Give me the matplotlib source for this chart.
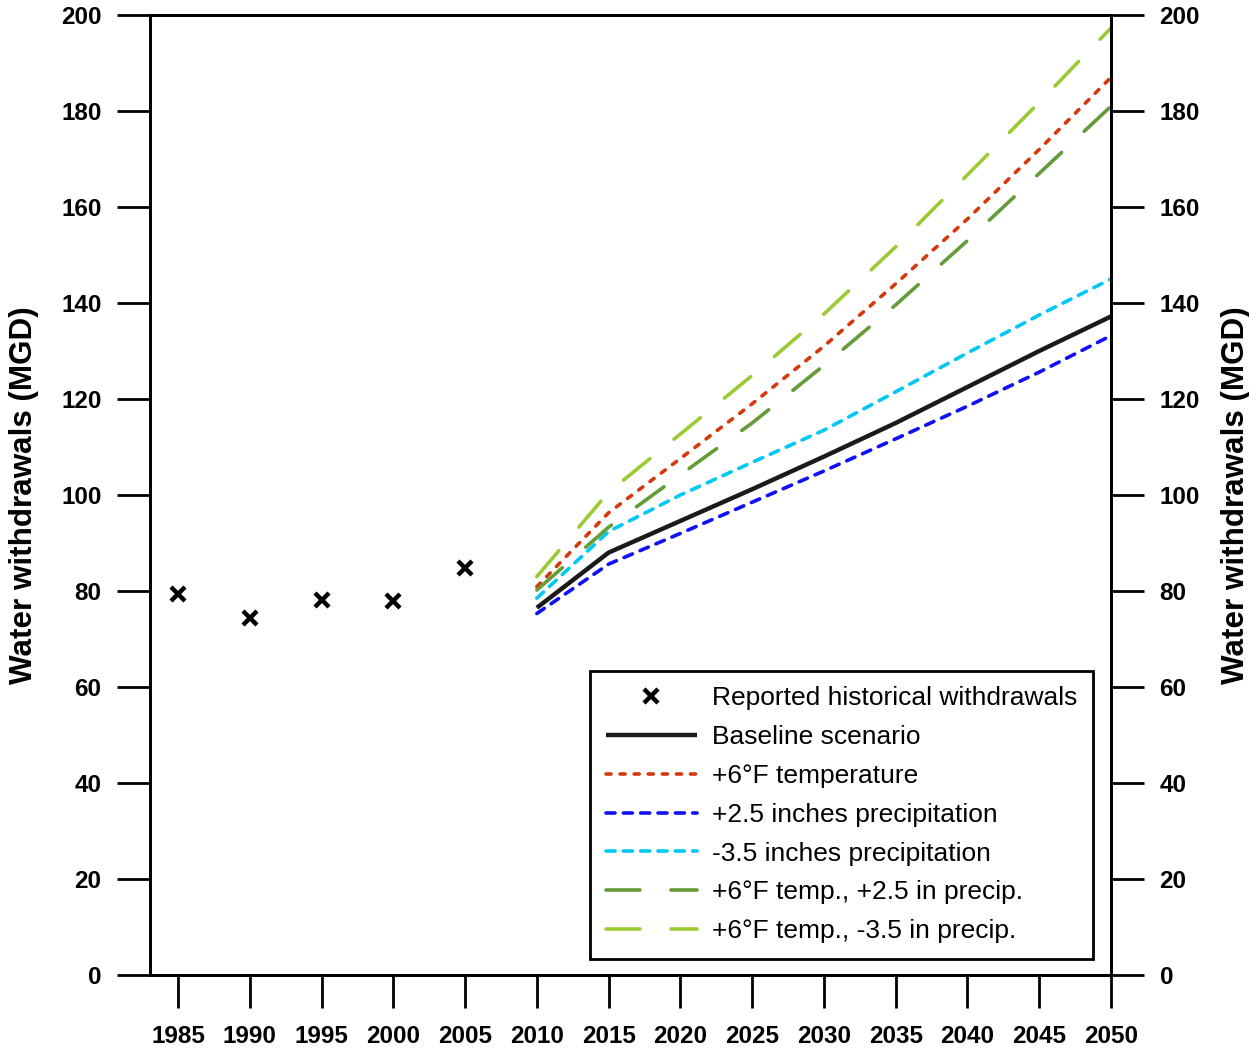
import matplotlib
matplotlib.use("Agg")
import matplotlib.pyplot as plt

plt.rcParams['font.family'] = ['Liberation Sans', 'DejaVu Sans']

hist_years = [1985, 1990, 1995, 2000, 2005]
hist_values = [79.3, 74.3, 78.1, 78.0, 84.7]

proj_years = [2010, 2015, 2020, 2025, 2030, 2035, 2040, 2045, 2050]
baseline = [76.5, 88.0, 94.6, 101.2, 108.0, 115.0, 122.5, 130.0, 137.2]
temp_6f = [80.9, 96.3, 107.6, 119.0, 131.0, 144.0, 157.5, 172.0, 187.0]
precip_plus = [75.3, 85.6, 92.0, 98.5, 105.0, 111.7, 118.5, 125.6, 133.2]
precip_minus = [78.5, 92.4, 100.0, 106.8, 113.5, 121.5, 129.6, 137.5, 145.0]
temp_precip_plus = [80.2, 93.3, 104.2, 115.0, 127.0, 139.6, 153.0, 167.0, 181.0]
temp_precip_minus = [83.0, 100.6, 112.7, 124.9, 137.7, 151.7, 166.7, 181.8, 197.3]

labels = ["Reported historical withdrawals", "Baseline scenario",
          "+6°F temperature", "+2.5 inches precipitation",
          "-3.5 inches precipitation", "+6°F temp., +2.5 in precip.",
          "+6°F temp., -3.5 in precip."]

x_ticks = list(range(1985, 2051, 5))
y_ticks = list(range(0, 201, 20))

fig = plt.figure(figsize=(12.49, 10.53), dpi=100)
ax = fig.add_axes([150/1249, 78/1053, 961/1249, 960/1053])

lw = 2.6
ax.plot(hist_years, hist_values, linestyle='none', marker='x', color='black',
        markersize=9.5, markeredgewidth=3.2, label=labels[0])
ax.plot(proj_years, baseline, color='#1a1a1a', lw=3.2, label=labels[1],
        solid_capstyle='butt')
ax.plot(proj_years, temp_6f, color='#d4380c', lw=lw, label=labels[2],
        linestyle=(0, (1.4, 2.5)), dash_capstyle='round')
ax.plot(proj_years, precip_plus, color='#1010f5', lw=lw, label=labels[3],
        linestyle=(0, (2.5, 2.3)), dash_capstyle='round')
ax.plot(proj_years, precip_minus, color='#00c8f5', lw=lw, label=labels[4],
        linestyle=(0, (2.5, 2.3)), dash_capstyle='round')
ax.plot(proj_years, temp_precip_plus, color='#649c38', lw=lw, label=labels[5],
        linestyle=(0, (9.4, 8.6)), dash_capstyle='round')
ax.plot(proj_years, temp_precip_minus, color='#9acb35', lw=lw, label=labels[6],
        linestyle=(0, (9.4, 8.6)), dash_capstyle='round')

ax.set_xlim(1983.05, 2050)
ax.set_ylim(0, 200)
ax.set_xticks(x_ticks)
ax.set_yticks(y_ticks)
ax.set_xticklabels([str(v) for v in x_ticks], fontsize=17.5, fontweight='bold')
ax.set_yticklabels([str(v) for v in y_ticks], fontsize=17.5, fontweight='bold')
ax.tick_params(axis='both', direction='out', length=24, width=2.0, color='black')
ax.tick_params(axis='x', pad=12)
ax.tick_params(axis='y', pad=11)
for s in ax.spines.values():
    s.set_linewidth(2.0)
ax.set_ylabel("Water withdrawals (MGD)", fontsize=22.6, fontweight='bold', labelpad=16)

ax2 = ax.twinx()
ax2.set_ylim(0, 200)
ax2.set_yticks(y_ticks)
ax2.set_yticklabels([str(v) for v in y_ticks], fontsize=17.5, fontweight='bold')
ax2.tick_params(axis='y', direction='out', length=24, width=2.0, pad=11)
for s in ax2.spines.values():
    s.set_linewidth(2.0)
ax2.set_ylabel("Water withdrawals (MGD)", fontsize=22.6, fontweight='bold',
               rotation=90, labelpad=15)

leg = ax.legend(loc='lower right', bbox_to_anchor=(0.981, 0.0167),
                borderaxespad=0, fontsize=19, frameon=True, fancybox=False,
                edgecolor='black', handlelength=3.45, handletextpad=0.55,
                labelspacing=0.56, borderpad=0.6)
leg.get_frame().set_linewidth(2.0)
leg.get_frame().set_alpha(1)

fig.savefig("out.png", dpi=100)
